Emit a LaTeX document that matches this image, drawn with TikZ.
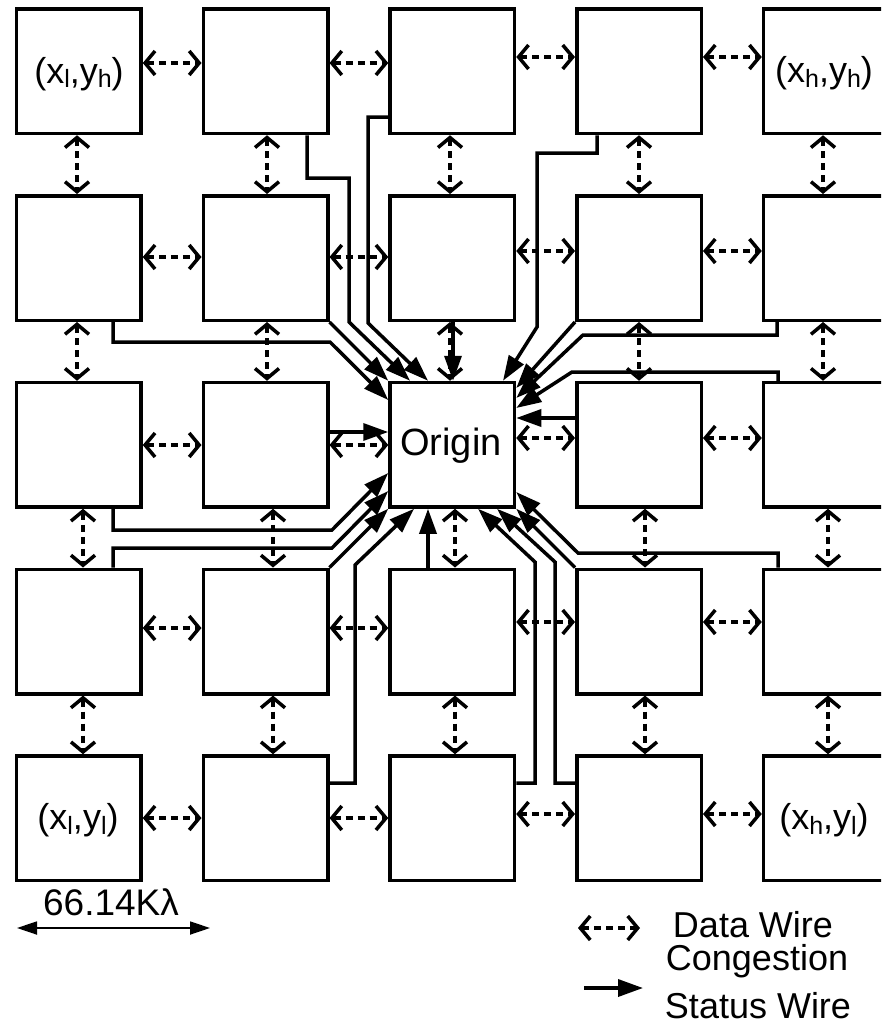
\documentclass[tikz,border=0pt]{standalone}
\usepackage{fontspec}
\setmainfont{Liberation Sans}
\usetikzlibrary{arrows.meta}
\newcommand{\mysub}[1]{\raisebox{-5pt}{\fontsize{25}{25}\selectfont #1}}
\newcommand{\cornerlab}[2]{(x\mysub{#1},y\mysub{#2})}
\tikzset{
  cell/.style={draw, line width=3.5pt, minimum size=124.5pt, inner sep=0pt, fill=white},
  data/.style={line width=3.5pt, dash pattern=on 7pt off 5pt,
    {Straight Barb[length=10pt,width=24pt,line width=3.5pt]}-{Straight Barb[length=10pt,width=24pt,line width=3.5pt]}},
  status/.style={line width=3.5pt, -{Triangle[length=25pt,width=17pt]}},
  txt/.style={font=\fontsize{36}{36}\selectfont, inner sep=0pt, anchor=base},
}
\begin{document}
\begin{tikzpicture}[x=1pt, y=-1pt, line join=miter]
\useasboundingbox (0,0) rectangle (881,1025);
\clip (0,0) rectangle (881,1025);
% cells
\foreach \i in {0,...,4}{
  \foreach \j in {0,...,4}{
    \node[cell] (b\i\j) at ({78.75+186.75*\i},{71.25+186.75*\j}) {};
  }
}
% labels
\node[txt] (lbtl) at (79,83) {\cornerlab{l}{h}};
\node[txt] (lbtr) at (824,82) {\cornerlab{h}{h}};
\node[txt] (lbbl) at (78,829) {\cornerlab{l}{l}};
\node[txt] (lbbr) at (824,829) {\cornerlab{h}{l}};
\node[txt, font=\fontsize{38}{38}\selectfont] (lorig) at (451,455) {Origin};
% horizontal data wires
\foreach \j/\ya/\yb in {0/63/57,1/257/251,2/445/438,3/628/622,4/818/814}{
  \draw[data] (b0\j.east |- 0,\ya) -- (b1\j.west |- 0,\ya);
  \draw[data] (b1\j.east |- 0,\ya) -- (b2\j.west |- 0,\ya);
  \draw[data] (b2\j.east |- 0,\yb) -- (b3\j.west |- 0,\yb);
  \draw[data] (b3\j.east |- 0,\yb) -- (b4\j.west |- 0,\yb);
}
% vertical data wires
\foreach \i/\xa/\xb in {0/77/83,1/267/273,2/450/455,3/639/645,4/823/828}{
  \draw[data] (b\i0.south -| \xa,0) -- (b\i1.north -| \xa,0);
  \draw[data] (b\i1.south -| \xa,0) -- (b\i2.north -| \xa,0);
  \draw[data] (b\i2.south -| \xb,0) -- (b\i3.north -| \xb,0);
  \draw[data] (b\i3.south -| \xb,0) -- (b\i4.north -| \xb,0);
}
% congestion status wires: top-left
\draw[status] (b01.south -| 113,0) |- (330,342) -- (b22.west |- 0,400);
\draw[status] (b11.south east) -- (b22.north west);
\draw[status] (b10.south -| 307,0) |- (349,178) -- (349,322) -- (b22.north -| 410,0);
\draw[status] (b20.west |- 0,117) -| (368,323) -- (b22.north -| 428,0);
\draw[status] (b21.south -| 453,0) -- (b22.north -| 453,0);
\draw[status] (b12.east |- 0,432) -- (b22.west |- 0,432);
% top-right
\draw[status] (b30.south -| 597,0) |- (537,153) -- (537,327) -- (b22.north -| 503,0);
\draw[status] (b31.south west) -- (b22.east |- 0,388);
\draw[status] (b41.south -| 777,0) |- (583,335) -- (b22.east |- 0,398);
\draw[status] (b42.north -| 778,0) |- (572,372) -- (b22.east |- 0,408);
\draw[status] (b32.west |- 0,418) -- (b22.east |- 0,418);
% bottom-left
\draw[status] (b02.south -| 113,0) |- (332,530) -- (b22.west |- 0,473);
\draw[status] (b03.north -| 113,0) |- (332,548) -- (b22.west |- 0,491);
\draw[status] (b13.north east) -- (b22.south west);
\draw[status] (b14.east |- 0,783) -| (355,565) -- (b22.south -| 414,0);
\draw[status] (b23.north -| 428,0) -- (b22.south -| 428,0);
% bottom-right
\draw[status] (b24.east |- 0,783) -| (535,562) -- (b22.south -| 478,0);
\draw[status] (b34.west |- 0,783) -| (555,562) -- (b22.south -| 497,0);
\draw[status] (b33.north west) -- (b22.south east);
\draw[status] (b43.north -| 778,0) |- (578,553) -- (b22.east |- 0,492);
% scale bar
\coordinate (s1) at (17,928);
\coordinate (s2) at (210,928);
\draw[line width=1.8pt, {Triangle[length=20pt,width=13pt]}-{Triangle[length=20pt,width=13pt]}] (s1) -- (s2);
\node[txt, font=\fontsize{37}{37}\selectfont] (scale) at (111,915) {66.14Kλ};
% legend
\coordinate (d1) at (578,928);
\coordinate (d2) at (640,928);
\draw[data] (d1) -- (d2);
\coordinate (a1) at (584,988);
\coordinate (a2) at (643,988);
\draw[status] (a1) -- (a2);
\node[txt] (ldata) at (753,937) {Data Wire};
\node[txt] (lcong) at (757,970) {Congestion};
\node[txt] (lstat) at (758,1018) {Status Wire};
\end{tikzpicture}
\end{document}
